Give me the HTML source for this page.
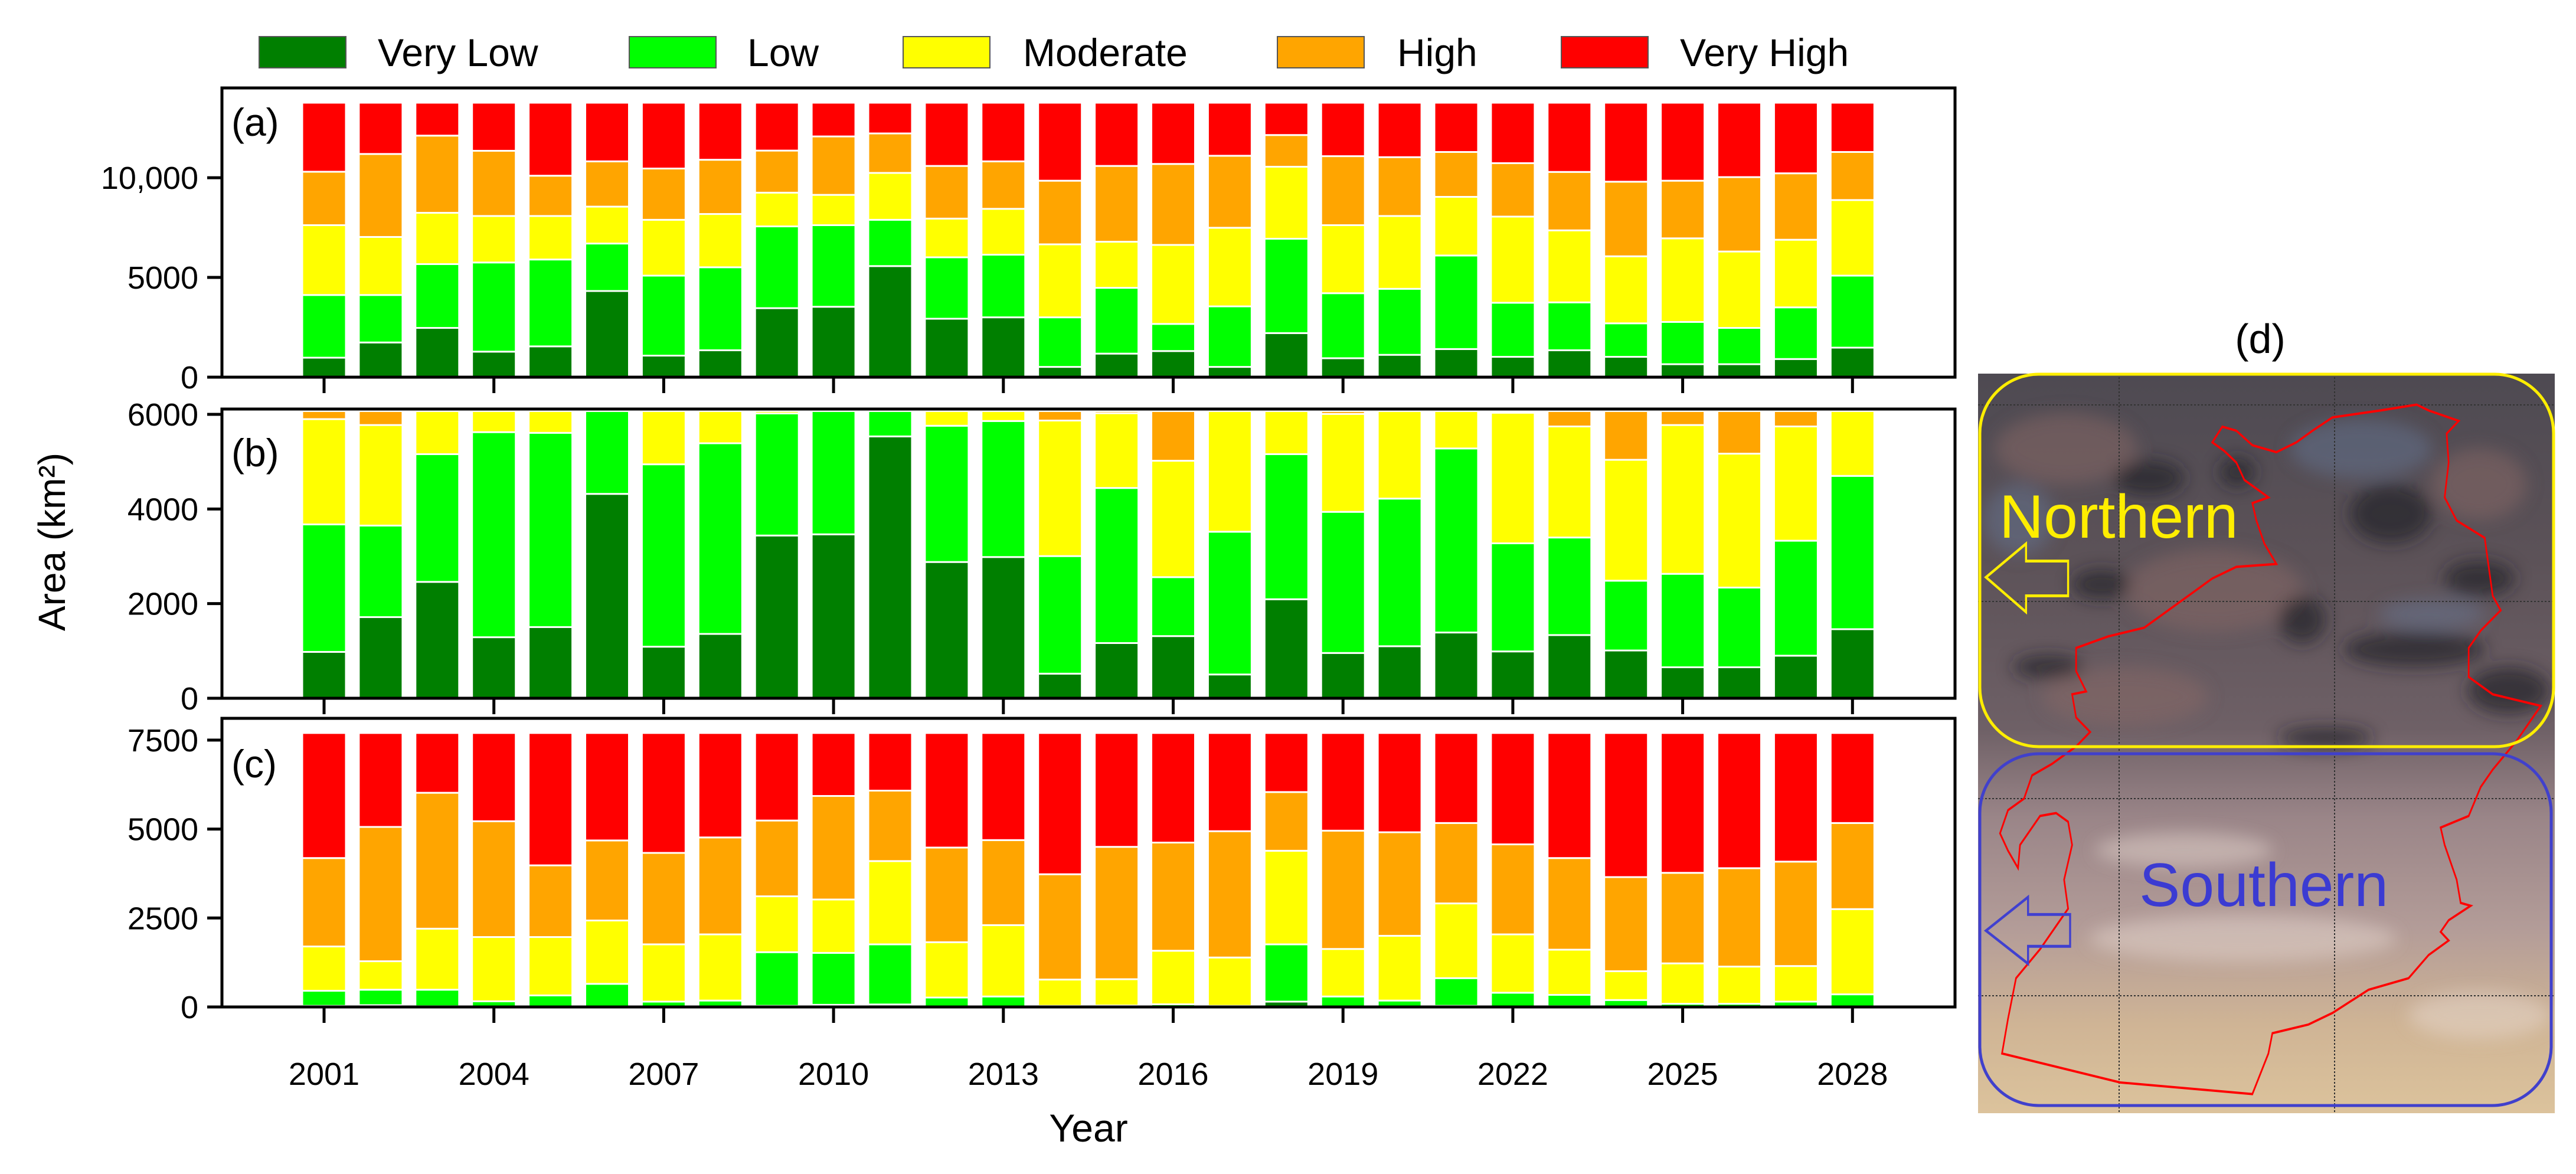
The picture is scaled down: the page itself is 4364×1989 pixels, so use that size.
<!DOCTYPE html>
<html><head><meta charset="utf-8"><style>
html,body{margin:0;padding:0;background:#fff;}
svg{display:block;font-family:"Liberation Sans",Arial,sans-serif;}
</style></head><body>
<svg id="fig" width="4364" height="1989" viewBox="0 0 4364 1989" xmlns="http://www.w3.org/2000/svg">
<defs>
<linearGradient id="mapbg" x1="0" y1="0" x2="0" y2="1">
<stop offset="0" stop-color="#4e4a52"/><stop offset="0.25" stop-color="#5c5258"/>
<stop offset="0.48" stop-color="#6e6066"/><stop offset="0.6" stop-color="#9a8588"/>
<stop offset="0.75" stop-color="#b39c98"/><stop offset="0.88" stop-color="#cfb495"/><stop offset="1" stop-color="#dcc39c"/>
</linearGradient>
<clipPath id="mapclip"><rect x="3351" y="633" width="977" height="1253"/></clipPath>
<filter id="blur" x="-20%" y="-20%" width="140%" height="140%"><feGaussianBlur stdDeviation="14"/></filter>
</defs>
<g id="legend"></g>
<g id="charts"></g>
<text x="0" y="0" transform="translate(110,918) rotate(-90)" text-anchor="middle" font-size="64">Area (km²)</text>
<text x="1844" y="1934" text-anchor="middle" font-size="66">Year</text>

<g>
<text x="3829" y="598" text-anchor="middle" font-size="70">(d)</text>
<g clip-path="url(#mapclip)">
<rect x="3351" y="633" width="977" height="1253" fill="url(#mapbg)"/>
<g filter="url(#blur)">
<g fill="#8a6a66" opacity="0.5">
<ellipse cx="3500" cy="760" rx="120" ry="60"/><ellipse cx="3750" cy="1000" rx="150" ry="70"/>
<ellipse cx="3600" cy="1180" rx="140" ry="50"/><ellipse cx="4200" cy="820" rx="80" ry="60"/>
</g>
<g fill="#22222a" opacity="0.7">
<ellipse cx="3640" cy="810" rx="60" ry="30"/><ellipse cx="4050" cy="870" rx="70" ry="50"/>
<ellipse cx="4200" cy="980" rx="60" ry="30"/><ellipse cx="4090" cy="1100" rx="120" ry="30"/>
<ellipse cx="3900" cy="1050" rx="40" ry="40"/><ellipse cx="3560" cy="990" rx="50" ry="25"/>
<ellipse cx="4250" cy="1170" rx="70" ry="40"/><ellipse cx="3790" cy="800" rx="30" ry="25"/>
<ellipse cx="3470" cy="1130" rx="60" ry="20"/><ellipse cx="3940" cy="1250" rx="80" ry="18"/>
</g>
<g fill="#6a7ca0" opacity="0.4"><ellipse cx="4000" cy="760" rx="120" ry="50"/><ellipse cx="3420" cy="880" rx="60" ry="60"/><ellipse cx="4120" cy="1040" rx="90" ry="25"/></g>
<g fill="#e8dcd2" opacity="0.45"><ellipse cx="3800" cy="1590" rx="260" ry="40"/><ellipse cx="4200" cy="1720" rx="120" ry="40"/><ellipse cx="3700" cy="1440" rx="150" ry="30"/></g>
</g>
<g stroke="#333" stroke-width="2" stroke-dasharray="3,3">
<line x1="3590" y1="633" x2="3590" y2="1886"/><line x1="3955" y1="633" x2="3955" y2="1886"/>
<line x1="3351" y1="686" x2="4328" y2="686"/><line x1="3351" y1="1019" x2="4328" y2="1019"/>
<line x1="3351" y1="1353" x2="4328" y2="1353"/><line x1="3351" y1="1687" x2="4328" y2="1687"/>
</g>
</g>
<g transform="translate(3300,450) scale(0.6786,0.9815)">
<polygon fill="none" stroke="#ff0000" stroke-width="4" points="660,305 685,278 720,285 760,310 820,322 870,305 910,285 960,262 1080,250 1170,240 1200,250 1275,268 1245,290 1250,340 1240,400 1270,440 1340,470 1360,570 1380,595 1330,630 1300,660 1300,710 1360,740 1480,760 1420,820 1360,870 1330,900 1300,950 1230,970 1240,1000 1270,1060 1280,1100 1305,1105 1250,1130 1230,1150 1250,1165 1200,1190 1150,1230 1050,1250 960,1290 900,1310 810,1325 800,1360 760,1430 430,1410 135,1360 150,1300 170,1230 230,1180 300,1110 290,1060 310,1000 300,960 270,945 230,950 180,1000 175,1040 150,1010 130,980 150,940 190,920 210,880 260,860 320,830 355,805 320,780 310,740 345,735 320,700 320,660 400,640 490,625 600,570 660,540 720,520 820,515 790,480 770,440 760,410 800,400 740,370 720,340 690,320"/>
<path d="M95,538 L195,480 L195,510 L300,510 L300,570 L195,570 L195,598 Z" fill="none" stroke="#ffee00" stroke-width="5"/>
<path d="M95,1148 L200,1090 L200,1120 L305,1120 L305,1175 L200,1175 L200,1205 Z" fill="none" stroke="#4040d0" stroke-width="5"/>
</g>
<rect x="3354" y="634" width="972" height="631" rx="100" ry="100" fill="none" stroke="#ffee00" stroke-width="5"/>
<rect x="3354" y="1277" width="968" height="596" rx="100" ry="100" fill="none" stroke="#4040cc" stroke-width="5"/>
<text x="3387" y="911" font-size="104" fill="#ffee00">Northern</text>
<text x="3624" y="1535" font-size="104" fill="#3b3bd2">Southern</text>
</g>

<script>
const years = [2001,2002,2003,2004,2005,2006,2007,2008,2009,2010,2011,2012,2013,2014,2015,2016,2017,2018,2019,2020,2021,2022,2023,2024,2025,2026,2027,2028];
const classNames = ["Very Low","Low","Moderate","High","Very High"];
const yearTickLabels = ["2001","2004","2007","2010","2013","2016","2019","2022","2025","2028"];

// Panel (a): total area
const aVeryLow = [977,1740,2470,1280,1545,4320,1080,1350,3460,3530,5570,2930,3000,515,1180,1310,515,2210,950,1120,1410,1020,1350,1020,650,650,910,1480];
const aLow = [3143,2380,3200,4470,4355,2380,4010,4160,4100,4090,2320,3080,3140,2485,3300,1360,3035,4730,3260,3310,4690,2710,2400,1680,2120,1820,2590,3610];
const aModerate = [3500,2910,2570,2330,2180,1850,2800,2670,1690,1520,2350,1940,2300,3660,2310,3960,3940,3610,3410,3650,2940,4320,3610,3360,4190,3830,3390,3790];
const aHigh = [2680,4160,3870,3270,2020,2270,2570,2720,2110,2930,1980,2640,2380,3190,3800,4060,3610,1590,3460,2950,2250,2680,2930,3740,2890,3730,3330,2410];
const aVeryHigh = [3460,2570,1650,2410,3660,2940,3300,2860,2400,1690,1540,3170,2940,3910,3170,3070,2660,1620,2680,2730,2470,3030,3470,3960,3910,3730,3540,2470];
const aTicks = [0,5000,10000];
const aTickLabels = ["0","5000","10,000"];

// Panel (b): northern region
const bVeryLow = [980,1715,2460,1290,1505,4320,1090,1360,3440,3465,5535,2880,2985,520,1167,1314,503,2093,957,1100,1390,990,1336,1010,655,655,900,1460];
const bLow = [2695,1935,2700,4335,4105,1750,3855,4030,2580,2605,535,2880,2875,2485,3278,1246,3017,3067,2983,3120,3890,2285,2062,1475,1975,1685,2430,3240];
const bModerate = [2225,2125,910,445,460,0,1125,680,50,0,0,310,210,2865,1580,2460,2550,910,2070,1850,790,2760,2347,2555,3145,2830,2415,1370];
const bHigh = [170,295,0,0,0,0,0,0,0,0,0,0,0,200,45,1050,0,0,60,0,0,35,325,1030,295,900,325,0];
const bVeryHigh = [0,0,0,0,0,0,0,0,0,0,0,0,0,0,0,0,0,0,0,0,0,0,0,0,0,0,0,0];
const bTicks = [0,2000,4000,6000];
const bTickLabels = ["0","2000","4000","6000"];

// Panel (c): southern region
const cVeryLow = [30,50,20,10,10,10,0,0,30,60,70,0,0,0,0,0,0,150,0,0,30,0,20,0,0,0,0,0];
const cLow = [425,435,465,150,315,640,150,180,1510,1460,1690,265,295,30,40,75,30,1610,295,180,780,400,320,195,90,90,150,355];
const cModerate = [1245,800,1715,1805,1640,1780,1610,1860,1570,1500,2340,1555,2005,740,740,1505,1360,2630,1335,1820,2100,1640,1270,810,1135,1045,1000,2395];
const cHigh = [2485,3775,3820,3255,2015,2250,2570,2725,2130,2910,1980,2660,2390,2960,3720,3040,3550,1650,3325,2910,2260,2530,2575,2645,2545,2765,2935,2420];
const cVeryHigh = [3515,2640,1680,2480,3720,3020,3370,2935,2460,1770,1620,3220,3010,3970,3200,3080,2760,1660,2745,2790,2530,3130,3515,4050,3930,3800,3615,2530];
const cTicks = [0,2500,5000,7500];
const cTickLabels = ["0","2500","5000","7500"];

const colors = ["#007f00","#00ff00","#ffff00","#ffa500","#ff0000"];
const NS = "http://www.w3.org/2000/svg";
function mk(tag, attrs, parent){ const e=document.createElementNS(NS,tag); for(const k in attrs) e.setAttribute(k,attrs[k]); parent.appendChild(e); return e; }

const xLeft=376, xRight=3312;
function xScale(i){ return 549 + i*95.9; }
const barW = 74;

const panels = [
  {id:"a", top:149, bottom:639, max:14500, series:[aVeryLow,aLow,aModerate,aHigh,aVeryHigh], ticks:aTicks, labels:aTickLabels, labelY:230},
  {id:"b", top:693, bottom:1183, max:6113, series:[bVeryLow,bLow,bModerate,bHigh,bVeryHigh], ticks:bTicks, labels:bTickLabels, labelY:790},
  {id:"c", top:1217, bottom:1706, max:8112, series:[cVeryLow,cLow,cModerate,cHigh,cVeryHigh], ticks:cTicks, labels:cTickLabels, labelY:1317}
];
const charts = document.getElementById("charts");
panels.forEach(p=>{
  const g = mk("g",{},charts);
  
  
  const yScale = v => p.bottom - v/p.max*(p.bottom-p.top);
  years.forEach((yr,i)=>{
    let acc=0;
    p.series.forEach((s,k)=>{
      const v=s[i]; if(v<=0) return;
      const y0=yScale(acc), y1=yScale(acc+v); acc+=v;
      const r = mk("rect",{x:xScale(i)-barW/2, y:y1, width:barW, height:y0-y1, fill:colors[k], stroke:"#fff", "stroke-width":3},g);
      
      
    });
  });
  const frame = mk("rect",{x:xLeft,y:p.top,width:xRight-xLeft,height:p.bottom-p.top,fill:"none",stroke:"#000","stroke-width":5},g);
  
  
  p.ticks.forEach((t,j)=>{
    const y=yScale(t);
    const tk = mk("line",{x1:xLeft-25,x2:xLeft,y1:y,y2:y,stroke:"#000","stroke-width":5},g);
    
    
    const tl = mk("text",{x:xLeft-40,y:y+19,"text-anchor":"end","font-size":54},g);
    tl.textContent = p.labels[j];
    
    
  });
  yearTickLabels.forEach(lbl=>{
    const i = years.indexOf(+lbl);
    const xt = mk("line",{x1:xScale(i),x2:xScale(i),y1:p.bottom,y2:p.bottom+27,stroke:"#000","stroke-width":5},g);
    
    
  });
  const pl = mk("text",{x:392,y:p.labelY,"font-size":66},g);
  pl.textContent="("+p.id+")";
  
  
});
yearTickLabels.forEach(lbl=>{
  const i = years.indexOf(+lbl);
  const t = mk("text",{x:xScale(i),y:1838,"text-anchor":"middle","font-size":54},charts);
  t.textContent = lbl;
  
  
});
const legend = document.getElementById("legend");
const legX = [439,1066,1530,2164,2645];
const legTX = [640,1266,1733,2367,2846];
classNames.forEach((n,k)=>{
  const r = mk("rect",{x:legX[k],y:62,width:147,height:53,fill:colors[k],stroke:"#555","stroke-width":2},legend);
  
  
  const t = mk("text",{x:legTX[k],y:112,"font-size":66},legend);
  t.textContent = n;
  
  
});
</script>
</svg>
</body></html>
